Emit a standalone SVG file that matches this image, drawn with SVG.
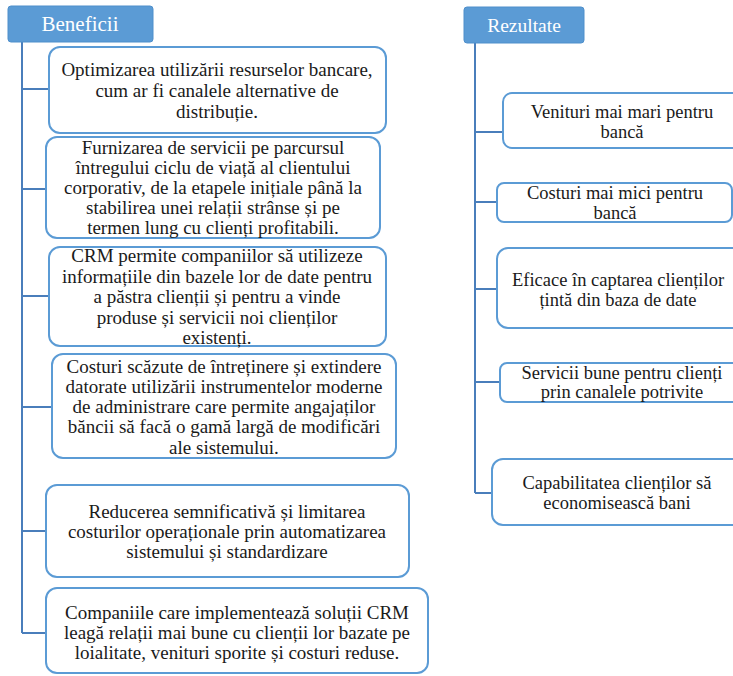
<svg xmlns="http://www.w3.org/2000/svg" width="733" height="676" viewBox="0 0 733 676" font-family="'Liberation Serif', 'Times New Roman', serif">
  <style>
    .hdr { fill: #5B9BD5; stroke: #4F8FCB; stroke-width: 1; }
    .hdr-t { fill: #ffffff; text-anchor: middle; }
    .box { fill: #ffffff; stroke: #5B9BD5; stroke-width: 2; }
    .t { font-size: 19px; fill: #1a1a1a; text-anchor: middle; }
    .tr { font-size: 18.5px; fill: #1a1a1a; text-anchor: middle; }
    .ln { fill: none; stroke: #4A7EBB; stroke-width: 2; }
  </style>
  <rect width="733" height="676" fill="#ffffff"/>

  <!-- tree connectors -->
  <g id="connectors">
    <path class="ln" d="M22 42 V633"/>
    <path class="ln" d="M22 89 H49 M22 189 H46 M22 296 H49 M22 407 H52 M22 531 H46 M22 633 H46"/>
    <path class="ln" d="M475 43 V493"/>
    <path class="ln" d="M475 132 H503 M475 202 H497 M475 289 H497 M475 382 H500 M475 493 H492"/>
  </g>

  <!-- left column -->
  <g id="beneficii">
    <rect class="hdr" x="8" y="6" width="145" height="36" rx="3"/>
    <text class="hdr-t" x="80" y="31" font-size="21">Beneficii</text>
  </g>
  <g id="b1">
    <rect class="box" x="49" y="47" width="337" height="86" rx="11"/>
    <text class="t" x="217" y="76">Optimizarea utilizării resurselor bancare,</text>
    <text class="t" x="217" y="97">cum ar fi canalele alternative de</text>
    <text class="t" x="217" y="118">distribuție.</text>
  </g>
  <g id="b2">
    <rect class="box" x="46" y="137" width="334" height="101" rx="11"/>
    <text class="t" x="213" y="154">Furnizarea de servicii pe parcursul</text>
    <text class="t" x="213" y="174">întregului ciclu de viață al clientului</text>
    <text class="t" x="213" y="194">corporativ, de la etapele inițiale până la</text>
    <text class="t" x="213" y="214">stabilirea unei relații strânse și pe</text>
    <text class="t" x="213" y="234">termen lung cu clienți profitabili.</text>
  </g>
  <g id="b3">
    <rect class="box" x="49" y="247" width="337" height="99" rx="11"/>
    <text class="t" x="217" y="262">CRM permite companiilor să utilizeze</text>
    <text class="t" x="217" y="283">informațiile din bazele lor de date pentru</text>
    <text class="t" x="217" y="303">a păstra clienții și pentru a vinde</text>
    <text class="t" x="217" y="324">produse și servicii noi clienților</text>
    <text class="t" x="217" y="344">existenți.</text>
  </g>
  <g id="b4">
    <rect class="box" x="52" y="354" width="344" height="104" rx="11"/>
    <text class="t" x="224" y="373">Costuri scăzute de întreținere și extindere</text>
    <text class="t" x="224" y="393">datorate utilizării instrumentelor moderne</text>
    <text class="t" x="224" y="413">de administrare care permite angajaților</text>
    <text class="t" x="224" y="433">băncii să facă o gamă largă de modificări</text>
    <text class="t" x="224" y="454">ale sistemului.</text>
  </g>
  <g id="b5">
    <rect class="box" x="46" y="485" width="363" height="92" rx="11"/>
    <text class="t" x="227" y="518">Reducerea semnificativă și limitarea</text>
    <text class="t" x="227" y="538">costurilor operaționale prin automatizarea</text>
    <text class="t" x="227" y="558">sistemului și standardizare</text>
  </g>
  <g id="b6">
    <rect class="box" x="46" y="588" width="382" height="85" rx="11"/>
    <text class="t" x="237" y="619">Companiile care implementează soluții CRM</text>
    <text class="t" x="237" y="639">leagă relații mai bune cu clienții lor bazate pe</text>
    <text class="t" x="237" y="659">loialitate, venituri sporite și costuri reduse.</text>
  </g>

  <!-- right column -->
  <g id="rezultate">
    <rect class="hdr" x="464" y="7" width="120" height="36" rx="3"/>
    <text class="hdr-t" x="524" y="32" font-size="19.5">Rezultate</text>
  </g>
  <g id="r1">
    <rect class="box" x="503" y="93" width="245" height="55" rx="9"/>
    <text class="tr" x="622" y="118">Venituri mai mari pentru</text>
    <text class="tr" x="622" y="138">bancă</text>
  </g>
  <g id="r2">
    <rect class="box" x="497" y="183" width="235" height="39" rx="7"/>
    <text class="tr" x="615" y="199">Costuri mai mici pentru</text>
    <text class="tr" x="615" y="219">bancă</text>
  </g>
  <g id="r3">
    <rect class="box" x="497" y="248" width="250" height="80" rx="11"/>
    <text class="tr" x="618" y="286">Eficace în captarea clienților</text>
    <text class="tr" x="618" y="306">țintă din baza de date</text>
  </g>
  <g id="r4">
    <rect class="box" x="500" y="363" width="250" height="39" rx="7"/>
    <text class="tr" x="622" y="379">Servicii bune pentru clienți</text>
    <text class="tr" x="622" y="398">prin canalele potrivite</text>
  </g>
  <g id="r5">
    <rect class="box" x="492" y="459" width="255" height="66" rx="11"/>
    <text class="tr" x="617" y="489">Capabilitatea clienților să</text>
    <text class="tr" x="617" y="509">economisească bani</text>
  </g>
</svg>
